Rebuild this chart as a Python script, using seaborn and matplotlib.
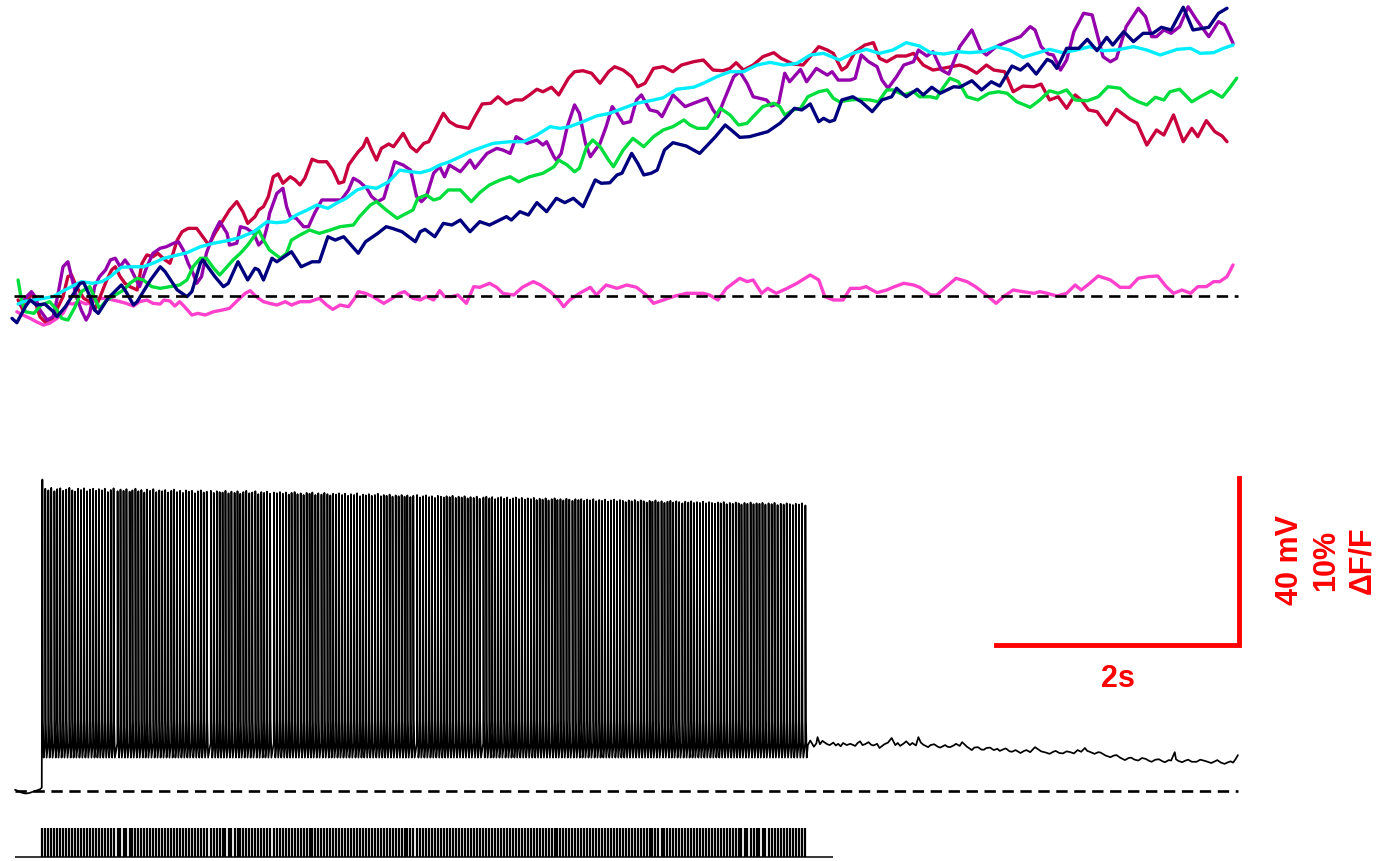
import numpy as np
import pandas as pd
import matplotlib
matplotlib.use("Agg")
import matplotlib.pyplot as plt
import seaborn as sns

# ---------------------------------------------------------------------------
# Calcium imaging: dF/F (%) of six regions of interest, as (time s, dF/F %)
# ---------------------------------------------------------------------------
roi_crimson = [(0.05,-0.24),(0.09,-0.84),(0.16,0.16),(0.19,-0.34),(0.23,-1.24),(0.27,-1.54),(0.33,-1.34),(0.38,-0.64),(0.42,-0.04),(0.46,1.16),(0.49,1.26),(0.53,0.56),(0.59,-0.14),(0.64,-0.34),(0.68,-0.84),(0.72,-0.14),(0.78,0.96),(0.82,1.56),(0.85,1.75),(0.89,1.16),(0.93,0.76),(0.97,0.56),(1.03,0.36),(1.07,1.96),(1.11,2.46),(1.16,2.35),(1.20,2.56),(1.26,2.16),(1.30,1.96),(1.36,3.35),(1.40,3.85),(1.45,4.05),(1.52,4.05),(1.56,3.65),(1.62,3.05),(1.67,3.75),(1.73,4.45),(1.79,5.15),(1.85,5.65),(1.90,5.05),(1.94,4.35),(2.00,4.75),(2.03,5.15),(2.07,5.35),(2.11,5.95),(2.15,7.14),(2.19,7.31),(2.23,6.75),(2.29,7.14),(2.33,6.95),(2.37,6.65),(2.41,7.05),(2.47,8.19),(2.52,8.04),(2.59,8.04),(2.64,7.54),(2.69,6.75),(2.73,6.84),(2.77,7.84),(2.81,8.25),(2.85,8.64),(2.89,8.94),(2.92,9.44),(2.96,8.74),(3.00,8.14),(3.04,8.84),(3.10,9.10),(3.14,8.94),(3.22,9.74),(3.28,8.94),(3.33,8.64),(3.39,9.14),(3.43,9.24),(3.50,10.24),(3.55,10.94),(3.60,10.44),(3.66,10.18),(3.76,10.04),(3.81,10.74),(3.87,11.50),(3.94,11.54),(4.00,11.93),(4.07,11.50),(4.14,11.74),(4.20,11.74),(4.26,12.04),(4.32,12.38),(4.37,12.23),(4.44,12.50),(4.50,12.04),(4.58,13.04),(4.63,13.43),(4.70,13.49),(4.77,13.34),(4.84,12.74),(4.91,13.43),(4.96,13.73),(5.03,13.53),(5.10,13.13),(5.15,12.53),(5.21,12.74),(5.28,13.63),(5.36,13.73),(5.44,13.43),(5.51,13.83),(5.61,14.03),(5.69,14.13),(5.77,13.53),(5.85,13.49),(5.91,13.63),(5.96,13.97),(6.02,13.53),(6.10,13.83),(6.18,14.33),(6.27,14.57),(6.33,14.23),(6.43,13.89),(6.51,13.83),(6.57,14.33),(6.64,14.93),(6.71,14.73),(6.76,14.53),(6.83,13.53),(6.87,13.73),(6.94,14.63),(7.02,15.03),(7.09,15.17),(7.14,14.23),(7.20,14.03),(7.28,14.37),(7.36,14.37),(7.42,14.53),(7.50,13.83),(7.58,13.53),(7.66,13.63),(7.80,13.83),(7.86,13.69),(7.94,13.34),(8.02,13.83),(8.08,13.53),(8.17,13.43),(8.24,12.23),(8.32,12.57),(8.41,12.53),(8.47,12.69),(8.54,11.74),(8.61,11.93),(8.68,11.24),(8.75,12.04),(8.80,11.74),(8.86,11.14),(8.93,11.04),(9.01,10.24),(9.09,11.18),(9.20,10.58),(9.26,10.34),(9.34,9.04),(9.42,9.94),(9.48,9.64),(9.56,10.84),(9.64,9.24),(9.71,10.04),(9.76,9.54),(9.83,10.50),(9.90,9.84),(9.96,9.58),(10.00,9.24)]

roi_purple = [(0.07,-0.54),(0.12,-0.04),(0.16,0.26),(0.19,-0.04),(0.23,-0.84),(0.29,-1.44),(0.34,-1.24),(0.38,0.16),(0.42,1.75),(0.46,2.05),(0.49,1.16),(0.53,-0.04),(0.57,-0.84),(0.61,-1.44),(0.64,-1.04),(0.68,0.56),(0.72,1.16),(0.77,1.56),(0.81,2.16),(0.85,2.26),(0.89,1.75),(0.93,2.16),(0.97,1.75),(1.01,1.16),(1.05,0.56),(1.11,1.75),(1.16,2.56),(1.22,2.86),(1.27,2.95),(1.33,3.16),(1.37,3.25),(1.41,2.75),(1.45,1.96),(1.49,1.36),(1.52,0.76),(1.56,1.16),(1.60,2.56),(1.66,3.75),(1.71,4.45),(1.77,3.75),(1.79,3.05),(1.85,3.16),(1.88,4.15),(1.93,4.05),(1.99,3.75),(2.03,3.05),(2.07,3.35),(2.10,4.15),(2.12,4.95),(2.18,6.15),(2.23,6.45),(2.26,5.35),(2.29,4.75),(2.34,4.65),(2.40,4.15),(2.44,4.15),(2.49,4.95),(2.55,5.75),(2.63,5.75),(2.71,5.75),(2.77,6.35),(2.81,7.05),(2.86,6.84),(2.92,6.45),(2.96,5.95),(3.01,5.65),(3.06,5.85),(3.10,6.84),(3.15,8.04),(3.22,7.84),(3.28,7.54),(3.33,5.95),(3.37,5.65),(3.41,5.95),(3.47,7.35),(3.52,7.74),(3.56,7.14),(3.60,7.84),(3.69,7.44),(3.77,8.14),(3.81,7.65),(3.91,8.54),(3.99,8.84),(4.04,8.74),(4.10,8.54),(4.15,9.54),(4.24,9.14),(4.32,9.34),(4.37,9.04),(4.40,9.24),(4.46,8.34),(4.48,8.14),(4.52,8.54),(4.57,10.14),(4.63,11.44),(4.67,10.94),(4.72,9.14),(4.76,8.34),(4.84,9.14),(4.89,10.14),(4.94,11.34),(4.98,10.94),(5.03,10.34),(5.09,10.44),(5.14,11.74),(5.18,12.04),(5.25,11.14),(5.31,11.04),(5.35,10.74),(5.44,12.04),(5.54,11.34),(5.61,11.54),(5.72,11.84),(5.77,11.14),(5.81,10.74),(5.85,11.54),(5.94,13.13),(5.99,13.43),(6.05,12.74),(6.10,11.93),(6.21,11.74),(6.25,11.38),(6.31,11.54),(6.36,13.34),(6.40,12.83),(6.49,13.57),(6.54,12.83),(6.62,13.63),(6.71,13.23),(6.75,13.43),(6.80,12.93),(6.90,12.93),(6.94,13.04),(6.99,14.43),(7.05,14.03),(7.12,13.73),(7.16,12.93),(7.21,12.44),(7.28,13.13),(7.34,13.83),(7.42,14.03),(7.46,14.73),(7.53,14.37),(7.58,14.63),(7.65,13.53),(7.71,13.29),(7.80,14.93),(7.90,15.93),(7.97,14.73),(8.02,14.43),(8.10,14.93),(8.21,15.29),(8.30,15.53),(8.38,16.13),(8.42,15.93),(8.47,14.93),(8.53,14.49),(8.57,14.43),(8.63,13.53),(8.68,14.13),(8.74,15.83),(8.82,16.93),(8.89,16.83),(8.93,15.73),(8.98,14.33),(9.04,14.03),(9.09,14.23),(9.17,16.13),(9.27,17.23),(9.33,16.72),(9.38,15.53),(9.42,15.53),(9.48,15.93),(9.54,15.73),(9.61,16.13),(9.68,17.32),(9.75,16.53),(9.85,15.53),(9.93,16.43),(9.98,16.23),(10.05,15.13)]

roi_cyan = [(0.05,-0.48),(0.09,-0.34),(0.18,-0.24),(0.26,-0.14),(0.34,-0.04),(0.41,0.26),(0.49,0.56),(0.57,0.86),(0.66,0.76),(0.74,0.86),(0.81,1.16),(0.90,1.72),(0.99,1.75),(1.08,1.75),(1.16,1.96),(1.25,2.26),(1.33,2.40),(1.44,2.59),(1.55,2.95),(1.66,3.16),(1.77,3.31),(1.88,3.51),(1.99,3.85),(2.10,4.45),(2.18,4.39),(2.26,4.45),(2.34,4.85),(2.43,5.15),(2.51,5.45),(2.60,5.25),(2.67,5.55),(2.75,5.85),(2.84,6.35),(2.92,6.54),(3.00,6.45),(3.10,6.84),(3.19,7.54),(3.28,7.44),(3.36,7.38),(3.44,7.54),(3.52,7.84),(3.60,8.04),(3.69,8.34),(3.77,8.64),(3.88,8.94),(3.96,9.14),(4.10,9.24),(4.21,9.24),(4.32,9.64),(4.43,10.14),(4.51,10.04),(4.59,10.14),(4.70,10.44),(4.81,10.78),(4.92,10.94),(5.03,11.24),(5.14,11.54),(5.25,11.69),(5.36,11.87),(5.47,12.38),(5.61,12.50),(5.69,12.74),(5.80,13.13),(5.91,13.43),(6.02,13.43),(6.13,13.83),(6.24,13.99),(6.35,13.83),(6.46,13.93),(6.57,14.43),(6.68,14.53),(6.81,14.13),(6.92,14.53),(7.03,14.77),(7.14,14.53),(7.25,14.73),(7.36,15.17),(7.47,14.97),(7.56,14.57),(7.67,14.49),(7.78,14.63),(7.88,14.57),(7.99,14.63),(8.10,14.93),(8.21,14.73),(8.32,14.29),(8.43,14.53),(8.54,14.77),(8.65,14.57),(8.76,14.73),(8.87,14.93),(8.98,14.69),(9.09,14.73),(9.23,14.93),(9.34,14.73),(9.45,14.43),(9.59,14.77),(9.70,14.83),(9.78,14.53),(9.89,14.57),(9.97,14.83),(10.05,15.03)]

roi_green = [(0.05,0.96),(0.08,-0.34),(0.11,-0.94),(0.18,-1.04),(0.24,-0.54),(0.31,-0.34),(0.37,-0.84),(0.41,-1.34),(0.46,-1.44),(0.52,-0.64),(0.57,0.26),(0.64,0.56),(0.70,-0.44),(0.72,-0.74),(0.78,-0.24),(0.85,0.06),(0.92,0.36),(0.97,0.76),(1.03,1.06),(1.08,0.96),(1.15,0.56),(1.22,0.46),(1.30,0.56),(1.38,0.66),(1.44,0.96),(1.49,1.75),(1.55,2.26),(1.60,2.26),(1.66,1.66),(1.71,1.26),(1.77,1.75),(1.82,2.16),(1.88,2.56),(1.94,3.05),(2.03,3.95),(2.07,3.35),(2.12,2.75),(2.21,2.26),(2.26,2.56),(2.30,3.35),(2.37,3.65),(2.45,3.95),(2.53,3.75),(2.62,3.95),(2.70,4.15),(2.81,4.25),(2.86,4.75),(2.95,5.45),(3.00,5.65),(3.08,5.15),(3.17,4.65),(3.22,4.85),(3.30,5.15),(3.34,5.85),(3.41,6.05),(3.47,5.75),(3.52,5.85),(3.59,6.35),(3.69,6.35),(3.78,5.65),(3.85,6.19),(3.93,6.65),(4.02,6.95),(4.10,7.14),(4.17,6.84),(4.26,7.14),(4.37,7.35),(4.46,7.74),(4.50,8.14),(4.57,7.84),(4.63,7.44),(4.67,7.65),(4.73,8.94),(4.78,9.34),(4.84,8.94),(4.91,8.14),(4.95,7.74),(5.03,8.74),(5.11,9.44),(5.20,8.94),(5.28,9.54),(5.36,9.94),(5.44,10.14),(5.53,10.54),(5.58,10.24),(5.64,10.04),(5.72,10.04),(5.77,10.54),(5.83,11.24),(5.91,10.84),(5.98,10.24),(6.05,10.34),(6.10,10.74),(6.18,11.34),(6.27,11.54),(6.32,11.34),(6.36,10.84),(6.43,11.14),(6.49,11.24),(6.55,11.93),(6.64,12.23),(6.71,12.34),(6.76,11.84),(6.81,11.63),(6.90,11.74),(6.98,11.78),(7.06,11.74),(7.13,11.63),(7.20,12.34),(7.25,12.34),(7.34,12.04),(7.42,12.23),(7.47,11.93),(7.56,11.93),(7.61,11.84),(7.65,12.34),(7.72,13.04),(7.79,12.83),(7.86,11.93),(7.95,11.74),(8.04,12.14),(8.12,12.23),(8.19,12.14),(8.27,11.63),(8.38,11.30),(8.46,11.74),(8.54,12.29),(8.61,12.14),(8.68,12.34),(8.75,11.74),(8.85,11.69),(8.94,11.93),(9.02,12.53),(9.12,12.44),(9.20,11.90),(9.27,11.63),(9.34,11.44),(9.41,11.90),(9.48,11.74),(9.53,12.23),(9.61,12.38),(9.71,11.63),(9.78,11.93),(9.87,12.29),(9.96,11.90),(10.02,12.44),(10.08,13.04)]

roi_navy = [(0.00,-1.34),(0.04,-1.60),(0.11,-0.64),(0.15,-0.24),(0.20,-0.54),(0.27,-0.48),(0.34,-0.94),(0.37,-1.24),(0.44,-0.64),(0.56,0.76),(0.59,0.80),(0.63,0.16),(0.68,-0.84),(0.71,-1.04),(0.79,-0.14),(0.90,0.66),(0.93,0.36),(1.00,-0.54),(1.03,-0.34),(1.14,0.96),(1.22,1.75),(1.26,1.46),(1.36,0.36),(1.44,-0.04),(1.48,0.26),(1.55,1.96),(1.57,2.16),(1.67,1.16),(1.74,0.56),(1.78,0.76),(1.86,2.05),(1.94,0.96),(2.00,1.66),(2.03,1.56),(2.07,0.96),(2.14,2.26),(2.18,2.05),(2.30,2.65),(2.38,1.75),(2.47,2.05),(2.53,2.05),(2.60,3.55),(2.66,3.35),(2.73,3.55),(2.85,2.56),(2.91,3.25),(3.01,3.75),(3.08,4.15),(3.13,4.05),(3.21,3.85),(3.32,3.25),(3.36,3.85),(3.40,3.99),(3.48,3.55),(3.55,4.35),(3.62,4.25),(3.69,4.55),(3.77,3.85),(3.85,4.45),(3.93,4.25),(4.07,4.75),(4.11,4.55),(4.18,5.05),(4.25,4.85),(4.32,5.59),(4.40,5.05),(4.48,5.85),(4.55,5.59),(4.62,5.85),(4.70,5.35),(4.80,6.95),(4.85,6.75),(4.92,6.78),(4.98,7.25),(5.02,7.35),(5.10,8.54),(5.15,7.95),(5.20,7.25),(5.26,7.35),(5.31,7.54),(5.37,8.74),(5.44,9.18),(5.55,8.98),(5.66,8.54),(5.79,9.54),(5.87,10.24),(5.92,9.94),(5.99,9.50),(6.07,9.54),(6.22,9.84),(6.32,10.34),(6.39,10.84),(6.44,11.24),(6.50,11.14),(6.57,11.50),(6.64,10.44),(6.68,10.64),(6.73,10.44),(6.77,10.54),(6.83,11.74),(6.92,11.93),(6.99,11.63),(7.08,11.04),(7.16,11.74),(7.24,11.93),(7.28,12.44),(7.36,11.93),(7.45,12.38),(7.50,12.04),(7.57,12.50),(7.64,12.14),(7.75,12.53),(7.80,12.50),(7.90,12.89),(7.98,12.34),(8.06,12.83),(8.13,12.57),(8.23,13.77),(8.30,13.53),(8.36,13.89),(8.43,13.29),(8.52,14.17),(8.56,14.03),(8.60,13.63),(8.68,14.83),(8.78,14.83),(8.85,15.37),(8.93,14.69),(9.01,15.49),(9.06,15.03),(9.15,15.83),(9.23,15.23),(9.31,15.73),(9.39,15.73),(9.46,16.09),(9.54,15.93),(9.64,17.29),(9.72,15.93),(9.85,16.09),(9.93,16.93),(10.00,17.23)]

roi_pink = [(0.04,-0.94),(0.09,-1.14),(0.15,-1.34),(0.20,-1.54),(0.26,-1.74),(0.31,-1.63),(0.37,-1.34),(0.42,-1.04),(0.46,-0.44),(0.50,-0.48),(0.56,-0.34),(0.61,-0.48),(0.67,-0.34),(0.72,-0.14),(0.78,-0.14),(0.83,-0.24),(0.89,-0.34),(0.94,-0.44),(1.00,-0.60),(1.05,-0.34),(1.11,-0.24),(1.16,-0.44),(1.22,-0.48),(1.25,-0.24),(1.30,-0.30),(1.34,-0.60),(1.38,-0.34),(1.42,-0.64),(1.48,-1.14),(1.53,-1.04),(1.59,-1.14),(1.66,-0.94),(1.73,-0.84),(1.79,-0.74),(1.86,-0.24),(1.92,0.16),(1.96,0.32),(2.01,-0.04),(2.07,-0.34),(2.12,-0.44),(2.18,-0.54),(2.25,-0.34),(2.30,-0.54),(2.37,-0.34),(2.45,-0.34),(2.53,-0.14),(2.59,-0.54),(2.64,-0.80),(2.70,-0.54),(2.77,-0.64),(2.82,-0.14),(2.85,0.26),(2.91,0.16),(2.97,-0.04),(3.06,-0.44),(3.13,-0.14),(3.19,0.16),(3.23,0.26),(3.30,-0.14),(3.36,-0.24),(3.41,-0.04),(3.47,-0.24),(3.52,0.32),(3.56,-0.04),(3.62,-0.04),(3.67,0.06),(3.74,-0.44),(3.80,0.56),(3.85,0.52),(3.93,0.76),(3.99,0.52),(4.04,0.16),(4.13,0.06),(4.20,0.52),(4.29,0.86),(4.35,0.66),(4.43,0.26),(4.50,-0.24),(4.54,-0.64),(4.59,-0.24),(4.67,0.16),(4.76,0.52),(4.81,0.06),(4.89,0.66),(4.98,0.46),(5.06,0.66),(5.14,0.52),(5.22,0.06),(5.28,-0.44),(5.36,-0.24),(5.44,-0.04),(5.55,0.16),(5.69,0.16),(5.74,0.06),(5.81,-0.24),(5.88,0.46),(5.99,1.06),(6.05,0.86),(6.10,0.96),(6.17,0.16),(6.22,0.46),(6.29,0.16),(6.38,0.46),(6.46,0.76),(6.57,1.26),(6.64,0.96),(6.69,-0.04),(6.76,-0.24),(6.84,-0.24),(6.90,0.46),(6.98,0.46),(7.03,0.56),(7.12,0.20),(7.20,0.36),(7.25,0.52),(7.34,0.76),(7.42,0.66),(7.47,0.52),(7.56,0.06),(7.61,0.06),(7.69,0.56),(7.77,1.06),(7.86,0.86),(7.93,0.56),(8.02,0.06),(8.10,-0.44),(8.16,-0.04),(8.24,0.36),(8.32,0.26),(8.41,0.16),(8.46,0.26),(8.52,0.16),(8.60,0.00),(8.68,0.16),(8.75,0.66),(8.80,0.36),(8.87,0.76),(8.94,1.20),(9.04,0.96),(9.12,0.52),(9.20,0.52),(9.27,1.06),(9.35,1.16),(9.43,1.20),(9.50,0.56),(9.56,0.16),(9.63,0.36),(9.70,0.16),(9.76,0.56),(9.83,0.56),(9.89,0.86),(9.94,0.86),(10.00,1.16),(10.05,1.86)]

roi_colors = {
    "crimson": "#c8003c",
    "purple": "#9400ab",
    "cyan": "#00eeff",
    "green": "#00dd3c",
    "navy": "#00007f",
    "pink": "#ff40cc",
}
roi_order = ["pink", "crimson", "purple", "green", "cyan", "navy"]

# ---------------------------------------------------------------------------
# Whole-cell recording: membrane potential relative to rest (mV)
# ---------------------------------------------------------------------------
pre_stim = [(0.025,0.3),(0.05,0.0),(0.08,-0.4),(0.11,-0.6),(0.14,-0.5),(0.17,-0.2),(0.20,0.1),(0.23,0.4),(0.245,0.8)]

spike_onset_s = 0.250
# inter-spike intervals (ms)
isi_ms = [
    24,25,24,26,23,25,24,25,26,24,23,25,24,25,24,26,25,24,23,25,
    24,25,24,23,33,24,25,24,26,23,25,24,25,24,23,25,26,24,25,24,
    25,24,26,23,24,25,24,25,23,26,24,25,24,24,25,34,24,25,23,24,
    24,25,24,26,24,23,25,24,25,24,26,24,25,23,24,25,32,24,25,24,
    25,24,23,25,24,26,24,25,24,23,25,24,26,24,25,24,23,25,24,25,
    24,25,24,26,24,25,23,24,25,24,26,24,25,24,23,25,24,26,24,25,
    24,23,25,24,31,24,25,24,26,23,25,24,25,24,23,25,24,26,24,25,
    24,25,24,26,25,24,31,24,25,23,24,25,24,26,24,25,24,23,25,24,
    25,24,26,24,23,25,24,25,24,26,24,23,25,24,25,24,26,24,25,23,
    24,25,24,26,24,25,23,24,25,24,26,24,25,24,23,25,24,26,24,25,
    24,25,24,23,25,24,26,24,25,24,23,25,24,26,24,25,24,23,25,24,
    25,24,26,24,25,24,23,25,24,26,24,25,24,23,25,24,26,24,25,24,
    25,24,26,25,24,25,26,24,25,26,25,24,26,25,28,
]
# spike peak potential (mV above rest)
spike_peak_mV = [
    74.6,72.4,72.0,72.6,71.8,72.3,72.5,71.9,72.2,72.6,72.0,71.7,72.4,72.1,72.5,71.8,72.2,72.4,71.9,72.3,
    72.0,72.4,71.6,72.1,72.5,71.8,72.2,71.9,72.3,71.7,72.0,72.4,71.8,72.1,71.5,72.2,71.9,72.3,71.6,72.0,
    71.8,72.1,71.5,71.9,72.2,71.6,71.9,71.4,72.0,71.7,71.9,71.3,71.8,72.0,71.5,71.7,71.9,71.4,71.8,71.6,
    71.5,71.9,71.3,71.7,71.4,71.8,71.2,71.6,71.9,71.3,71.5,71.8,71.1,71.6,71.4,71.7,71.2,71.5,71.3,71.6,
    71.2,71.5,71.0,71.4,71.6,71.1,71.3,70.9,71.4,71.2,71.5,70.9,71.3,71.0,71.4,71.1,70.8,71.2,71.0,71.3,
    70.9,71.2,70.7,71.1,70.9,71.3,70.6,71.0,70.8,71.1,70.7,70.9,71.2,70.6,70.9,70.7,71.0,70.5,70.8,70.6,
    70.9,70.5,70.8,70.4,70.7,70.9,70.3,70.6,70.8,70.4,70.6,70.2,70.7,70.5,70.3,70.6,70.4,70.7,70.2,70.5,
    70.3,70.6,70.1,70.4,70.2,70.5,70.0,70.3,70.5,70.1,70.4,69.9,70.2,70.4,70.0,70.3,69.8,70.1,70.3,69.9,
    70.2,69.8,70.1,69.9,70.2,69.7,70.0,69.8,70.1,69.6,69.9,70.1,69.7,69.9,69.6,70.0,69.8,69.5,69.9,69.7,
    69.9,69.5,69.8,69.6,69.9,69.4,69.7,69.5,69.8,69.3,69.6,69.8,69.4,69.7,69.5,69.2,69.6,69.4,69.7,69.3,
    69.6,69.4,69.1,69.5,69.3,69.6,69.2,69.4,69.0,69.3,69.5,69.1,69.4,69.2,68.9,69.3,69.1,69.4,69.0,69.2,
    69.0,69.3,68.9,69.2,69.0,68.8,69.1,68.9,69.2,68.7,69.0,68.8,69.1,68.9,68.6,69.0,68.8,69.1,68.7,68.9,
    68.8,69.0,68.6,68.9,68.7,69.0,68.5,68.8,68.6,68.9,68.7,68.5,68.8,68.6,68.9,68.4,
]
threshold_mV = 11.5
repol_mV = 17.0
ahp_mV = 8.0

post_stim = [(6.55,11.0),(6.57,12.1),(6.58,11.6),(6.60,10.6),(6.62,11.4),(6.63,12.9),(6.65,11.2),(6.67,12.0),(6.68,11.8),(6.71,11.2),(6.73,11.0),(6.76,11.6),(6.78,10.9),(6.80,11.3),(6.82,10.7),(6.84,11.5),(6.87,11.0),(6.90,11.3),(6.94,10.8),(6.96,11.5),(6.98,11.9),(7.00,11.0),(7.02,11.2),(7.05,11.7),(7.07,11.1),(7.09,10.9),(7.12,11.3),(7.14,10.3),(7.18,11.2),(7.21,11.6),(7.24,12.7),(7.27,11.0),(7.29,11.5),(7.31,10.8),(7.34,11.4),(7.36,11.9),(7.39,11.0),(7.41,11.5),(7.44,10.9),(7.46,12.9),(7.48,11.6),(7.50,11.1),(7.54,10.5),(7.56,11.0),(7.59,11.2),(7.62,10.6),(7.64,10.4),(7.68,11.0),(7.70,10.6),(7.72,10.5),(7.75,10.9),(7.77,11.3),(7.80,10.8),(7.82,11.7),(7.86,10.6),(7.88,10.2),(7.90,9.8),(7.92,10.4),(7.95,10.5),(7.98,9.9),(8.00,9.9),(8.02,10.3),(8.05,10.4),(8.08,9.8),(8.11,10.1),(8.13,9.6),(8.16,10.0),(8.18,10.2),(8.21,9.5),(8.23,9.4),(8.26,9.8),(8.30,9.1),(8.33,9.6),(8.35,9.8),(8.38,9.3),(8.42,10.5),(8.45,9.9),(8.47,9.5),(8.51,9.2),(8.54,8.9),(8.57,9.4),(8.59,9.6),(8.62,9.1),(8.65,9.0),(8.68,9.5),(8.71,9.3),(8.74,9.0),(8.77,9.8),(8.80,9.4),(8.83,10.3),(8.85,9.6),(8.87,9.4),(8.91,8.9),(8.94,9.3),(8.96,9.2),(9.00,8.5),(9.04,8.1),(9.07,8.5),(9.09,8.6),(9.12,8.0),(9.16,7.4),(9.19,7.9),(9.21,8.0),(9.24,7.5),(9.27,7.3),(9.30,7.9),(9.33,7.7),(9.36,7.2),(9.38,7.0),(9.41,7.5),(9.44,7.6),(9.47,7.1),(9.49,6.9),(9.52,7.4),(9.54,7.3),(9.57,9.3),(9.58,7.6),(9.60,7.2),(9.63,6.9),(9.66,7.3),(9.68,7.5),(9.71,7.0),(9.75,7.0),(9.78,7.5),(9.82,7.2),(9.85,6.9),(9.87,6.7),(9.90,7.1),(9.92,7.4),(9.95,6.8),(9.98,6.5),(10.01,6.9),(10.03,7.1),(10.05,6.8),(10.07,7.6),(10.09,8.6)]

recording_span_s = (0.025, 10.09)
raster_line_end_s = 6.757

# scale bar: 2 s horizontally, 40 mV / 10 % dF/F vertically
bar_time_s = 2.0
bar_mV = 40.0
bar_corner = (10.1, 35.0)
bar_label_time = "2s"
bar_label_amp = "40 mV\n10%\n\u0394F/F"

# ---------------------------------------------------------------------------
sns.set_theme(style="white")
plt.rcParams["font.family"] = ["Liberation Sans", "DejaVu Sans"]

W, H = 1383, 861
fig = plt.figure(figsize=(W / 100, H / 100), dpi=100)

xlim = (-12 / 121.5, (W - 12) / 121.5)

def band(top_px, bottom_px):
    return [0.0, (H - bottom_px) / H, 1.0, (bottom_px - top_px) / H]

# calcium traces
ax_top = fig.add_axes(band(0, 340))
ax_top.set_xlim(*xlim)
ax_top.set_ylim((296 - 340) / 16.7, 296 / 16.7)
ax_top.set_axis_off()

rows = []
for name, pts in [("crimson", roi_crimson), ("purple", roi_purple), ("cyan", roi_cyan),
                  ("green", roi_green), ("navy", roi_navy), ("pink", roi_pink)]:
    for t, v in pts:
        rows.append((name, t, v))
df = pd.DataFrame(rows, columns=["roi", "time_s", "dff"])
sns.lineplot(data=df, x="time_s", y="dff", hue="roi", hue_order=roi_order,
             palette=roi_colors, estimator=None, sort=False, linewidth=2.4,
             legend=False, ax=ax_top)
ax_top.hlines(0, 0.02, recording_span_s[1], colors="black", linewidth=1.9,
              linestyles=(0, (4.3, 2.5)), zorder=10)

# membrane potential
ax_v = fig.add_axes(band(470, 800))
ax_v.set_xlim(*xlim)
ax_v.set_ylim((791 - 800) / 4.175, (791 - 470) / 4.175)
ax_v.set_axis_off()

spike_times = spike_onset_s + np.concatenate([[0.0], np.cumsum(isi_ms) / 1000.0])
tv = [p[0] for p in pre_stim]
vv = [p[1] for p in pre_stim]
for i, (ts, pk) in enumerate(zip(spike_times, spike_peak_mV)):
    if i > 0:
        tv.append(ts - 0.0015)
        vv.append(threshold_mV)
    tv += [ts, ts + 0.004, ts + 0.011]
    vv += [pk, repol_mV, ahp_mV]
tv += [p[0] for p in post_stim]
vv += [p[1] for p in post_stim]
sns.lineplot(x=np.array(tv), y=np.array(vv), estimator=None, sort=False,
             color="black", linewidth=1.25, ax=ax_v)
ax_v.hlines(0, recording_span_s[0], recording_span_s[1], colors="black",
            linewidth=1.9, linestyles=(0, (4.3, 2.5)))

# scale bar
cx, cy = bar_corner
ax_v.plot([cx - bar_time_s, cx, cx], [cy, cy, cy + bar_mV], color="#ff0000",
          linewidth=3.5, solid_joinstyle="miter", solid_capstyle="projecting",
          clip_on=False)
ax_v.annotate(bar_label_time, xy=(cx - bar_time_s / 2, cy), xytext=(0, -14),
              textcoords="offset points", ha="center", va="top",
              color="#ff0000", fontsize=22, fontweight="bold")
ax_v.text(10.815, 55.3, bar_label_amp, rotation=90, ha="center", va="center",
          multialignment="center", color="#ff0000", fontsize=22,
          fontweight="bold", linespacing=1.28)

# spike raster
ax_r = fig.add_axes(band(828, 857))
ax_r.set_xlim(*xlim)
ax_r.set_ylim(0, 1)
ax_r.set_axis_off()
ax_r.vlines(spike_times, 0, 1, colors="black", linewidth=1.6)
ax_r.hlines(0, recording_span_s[0], raster_line_end_s, colors="black",
            linewidth=1.1, clip_on=False)

fig.savefig("out.png", dpi=100)
